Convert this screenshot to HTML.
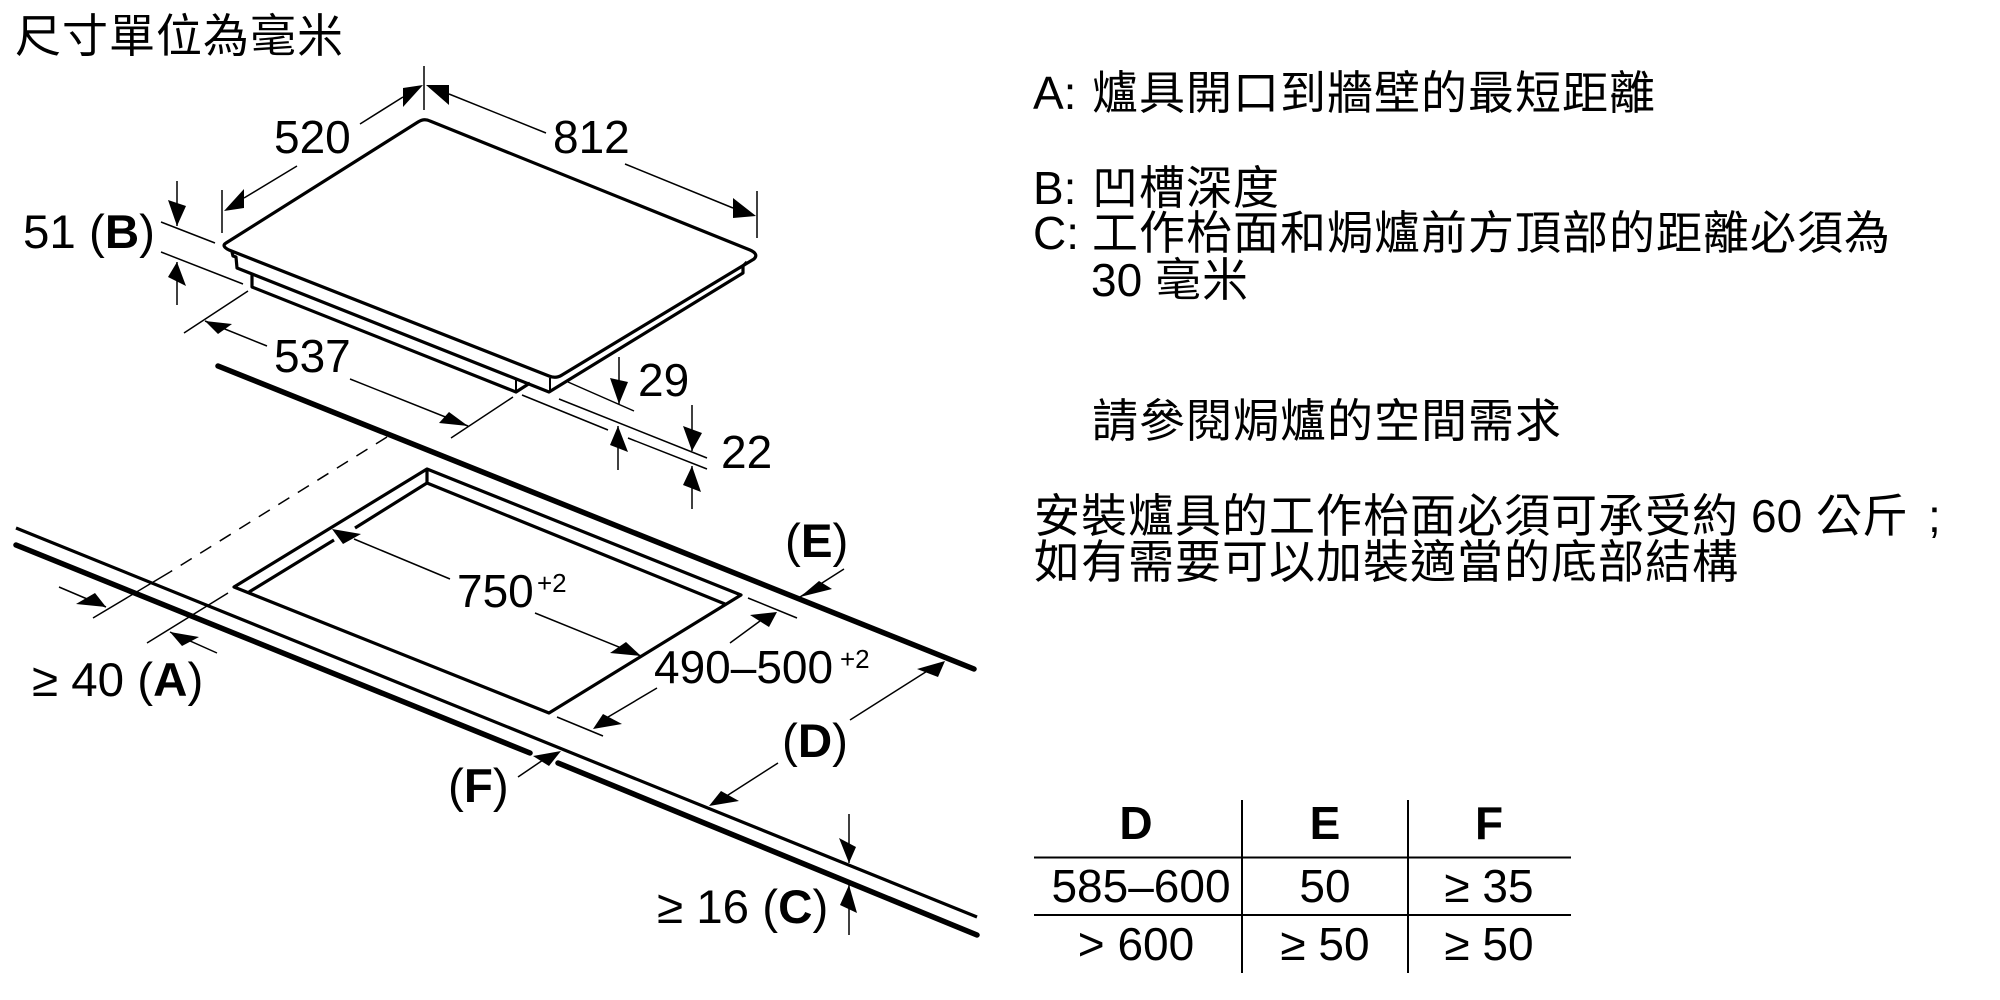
<!DOCTYPE html>
<html><head><meta charset="utf-8"><style>
html,body{margin:0;padding:0;background:#fff;width:2000px;height:1000px;overflow:hidden}
svg{display:block}
text{font-family:"Liberation Sans","Noto Sans CJK TC",sans-serif;font-size:46px;fill:#000}
.c{font-family:"Noto Sans CJK TC","WenQuanYi Zen Hei",sans-serif;font-size:46px;letter-spacing:1px}
.s{font-size:26px}
.p{font-size:47.5px}
.m{text-anchor:middle}
.b{font-weight:bold}
.t{stroke:#000;stroke-width:1.5;fill:none}
.h{stroke:#000;stroke-width:3.2;fill:none;stroke-linejoin:round}
.k{stroke:#000;stroke-width:5.5;fill:none;stroke-linecap:round}
.g{stroke:#000;stroke-width:2;fill:none}
polygon{fill:#000}
</style></head><body>
<svg width="2000" height="1000" viewBox="0 0 2000 1000" xmlns="http://www.w3.org/2000/svg">
<!-- hob -->
<path class="h" d="M226,243 L418,122 Q424,118 430,121 L750,250 Q759,254 754,259 L562,375 Q556,379 549,376 L229,250 Q221,246 226,243 Z"/>
<path class="h" d="M232,252 L233,256 L236,257 L237,268 L549,392 L743,273 L743,266 L747,262"/>
<path class="h" d="M252,274 V287 L516,392 L530,383"/>
<path class="g" d="M516,378 V392 M550,378 V392"/>
<!-- counter -->
<path class="k" d="M218,366 L974,669"/>
<path class="k" d="M16,545 L530,753 M558,763 L977,935"/>
<path class="h" d="M16,528 L977,917"/>
<!-- cutout -->
<path class="h" d="M234,587 L427,469 L741,595 L549,713 Z"/>
<path class="h" d="M334,540 L249,592 M355,528 L427,483 L725,604 M427,469 V483"/>
<!-- dashed -->
<path class="t" stroke-dasharray="13 10" d="M387,437 L170,572"/>
<path class="t" d="M170,572 L93,618 M228,593 L147,643"/>
<!-- 520 -->
<path class="t" d="M424,66 V110 M360,124 L403,97 M449,94 L546,133 M297,166 L244,198 M222,190 V233 M757,191 V238 M625,164 L733,208"/>
<polygon points="423,85 403,88 403,107"/><polygon points="426,85 449,85 449,105"/>
<polygon points="224,211 244,189 244,208"/><polygon points="756,216 733,198 733,218"/>
<!-- 51 B -->
<path class="t" d="M177,181 V226 M161,222 L215,243 M161,252 L243,284 M177,262 V305"/>
<polygon points="168,200 186,206 177,226"/><polygon points="177,262 168,277 186,286"/>
<!-- 537 -->
<path class="t" d="M248,291 L184,333 M205,321 L267,346 M350,379 L468,426 M513,397 L451,438"/>
<polygon points="205,321 232,324 218,334"/><polygon points="468,426 449,412 439,423"/>
<!-- 29 22 -->
<path class="t" d="M568,382 L634,411 M559,399 L707,458 M522,395 L608,430 M628,438 L707,469 M619,357 V404 M618,426 V470 M692,405 V451 M692,466 V509"/>
<polygon points="610,378 628,382 619,404"/><polygon points="618,426 610,445 628,452"/>
<polygon points="683,426 702,433 692,451"/><polygon points="692,466 683,485 701,492"/>
<!-- A -->
<path class="t" d="M59,587 L106,607 M217,653 L170,632"/>
<polygon points="106,607 95,593 76,604"/><polygon points="170,632 199,637 182,646"/>
<!-- E -->
<path class="t" d="M844,569 L800,597 M748,598 L797,618"/>
<polygon points="800,597 819,581 832,589"/>
<!-- 490 -->
<path class="t" d="M730,643 L760,621 M657,688 L603,720 M557,717 L603,736"/>
<polygon points="777,612 750,615 769,627"/><polygon points="593,729 603,714 622,724"/>
<!-- 750 -->
<path class="t" d="M354,539 L450,579 M535,613 L641,656"/>
<polygon points="332,529 361,534 343,544"/><polygon points="641,656 626,642 610,653"/>
<!-- D -->
<path class="t" d="M850,720 L932,668 M778,763 L725,797"/>
<polygon points="945,661 917,669 938,677"/><polygon points="709,806 721,791 739,801"/>
<!-- F -->
<path class="t" d="M518,777 L543,760"/>
<polygon points="561,751 533,756 549,766"/>
<!-- C -->
<path class="t" d="M849,814 V863 M849,885 V935"/>
<polygon points="849,863 839,838 856,847"/><polygon points="849,885 840,905 857,913"/>
<!-- labels -->
<text x="274" y="153">520</text>
<text x="553" y="153">812</text>
<text class="p" x="23" y="248">51 (<tspan class="b">B</tspan>)</text>
<text x="274" y="372">537</text>
<text x="638" y="396">29</text>
<text x="721" y="468">22</text>
<text x="457" y="607">750</text><text class="s" x="537" y="592">+2</text>
<text x="654" y="683">490–500</text><text class="s" x="840" y="668">+2</text>
<text class="p" x="785" y="557">(<tspan class="b">E</tspan>)</text>
<text class="p" x="782" y="757">(<tspan class="b">D</tspan>)</text>
<text class="p" x="448" y="802">(<tspan class="b">F</tspan>)</text>
<text class="p" x="32" y="696">≥ 40 (<tspan class="b">A</tspan>)</text>
<text class="p" x="657" y="923">≥ 16 (<tspan class="b">C</tspan>)</text>
<!-- title + notes -->
<text class="c" x="15" y="52">尺寸單位為毫米</text>
<text x="1033" y="109">A:</text><text class="c" x="1092" y="109">爐具開口到牆壁的最短距離</text>
<text x="1033" y="204">B:</text><text class="c" x="1092" y="204">凹槽深度</text>
<text x="1033" y="249">C:</text><text class="c" x="1092" y="249">工作枱面和焗爐前方頂部的距離必須為</text>
<text x="1091" y="296">30</text><text class="c" x="1155" y="296">毫米</text>
<text class="c" x="1092" y="437">請參閱焗爐的空間需求</text>
<text class="c" x="1034" y="532">安裝爐具的工作枱面必須可承受約</text>
<text x="1751" y="532">60</text><text class="c" style="letter-spacing:0" x="1816" y="532">公斤</text><text x="1928" y="532">;</text>
<text class="c" x="1034" y="578">如有需要可以加裝適當的底部結構</text>
<!-- table -->
<path class="g" d="M1242,800 V973 M1408,800 V973 M1034,857.500 H1571 M1034,915 H1571"/>
<text class="m b" x="1136" y="839">D</text><text class="m b" x="1325" y="839">E</text><text class="m b" x="1489" y="839">F</text>
<text class="m" x="1141" y="902">585–600</text><text class="m" x="1325" y="902">50</text><text class="m" x="1489" y="902">≥ 35</text>
<text class="m" x="1136" y="960">&gt; 600</text><text class="m" x="1325" y="960">≥ 50</text><text class="m" x="1489" y="960">≥ 50</text>
</svg>
</body></html>
